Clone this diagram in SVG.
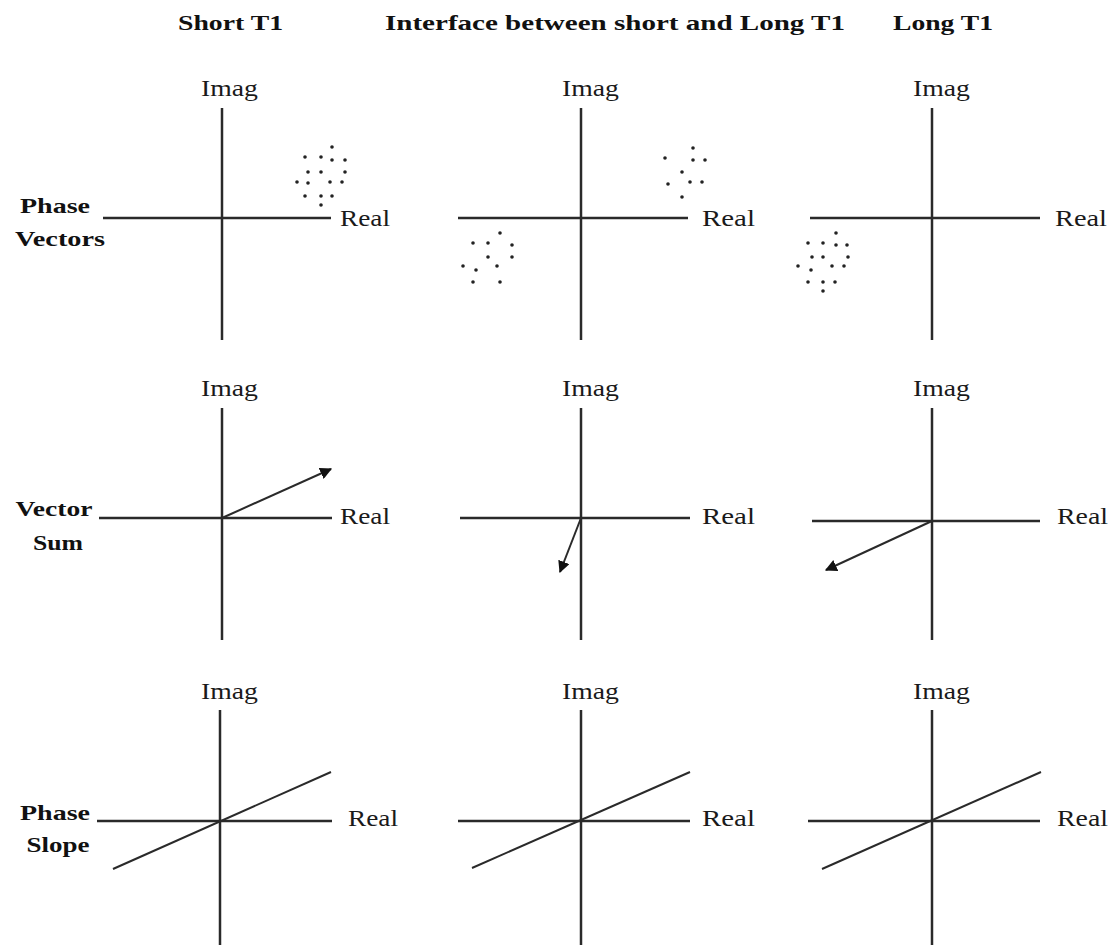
<svg xmlns="http://www.w3.org/2000/svg" width="1114" height="946" viewBox="0 0 1114 946">
<defs>
<style>
.ax{stroke:#2a2a2a;stroke-width:2.5;fill:none}
.vec{stroke:#2a2a2a;stroke-width:2;fill:none;marker-end:url(#ah)}
.sl{stroke:#2a2a2a;stroke-width:2;fill:none}
.lbl{font-family:"Liberation Serif","DejaVu Serif",serif;font-size:23px;fill:#1a1a1a}
.hd{font-family:"Liberation Serif","DejaVu Serif",serif;font-size:22px;font-weight:bold;fill:#111}
.rl{font-family:"Liberation Serif","DejaVu Serif",serif;font-size:22px;font-weight:bold;fill:#111;text-anchor:middle}
.dot{fill:#222}
</style>
<marker id="ah" viewBox="0 0 10 10" refX="9" refY="5" markerWidth="6" markerHeight="6" orient="auto" markerUnits="strokeWidth">
<path d="M0,0 L10,5 L0,10 z" fill="#111"/>
</marker>
</defs>
<rect width="1114" height="946" fill="#fff"/>

<g id="headings">
<text class="hd" x="178" y="30" textLength="105" lengthAdjust="spacingAndGlyphs">Short T1</text>
<text class="hd" x="385" y="30" textLength="460" lengthAdjust="spacingAndGlyphs">Interface between short and Long T1</text>
<text class="hd" x="893" y="30" textLength="100" lengthAdjust="spacingAndGlyphs">Long T1</text>
</g>

<g id="row-labels">
<text class="rl" x="55" y="213" textLength="70" lengthAdjust="spacingAndGlyphs">Phase</text>
<text class="rl" x="60" y="246" textLength="90" lengthAdjust="spacingAndGlyphs">Vectors</text>
<text class="rl" x="54" y="516" textLength="77" lengthAdjust="spacingAndGlyphs">Vector</text>
<text class="rl" x="58" y="550" textLength="50" lengthAdjust="spacingAndGlyphs">Sum</text>
<text class="rl" x="55" y="820" textLength="70" lengthAdjust="spacingAndGlyphs">Phase</text>
<text class="rl" x="58" y="852" textLength="63" lengthAdjust="spacingAndGlyphs">Slope</text>
</g>

<g id="panel-r1c1">
<line class="ax" x1="222" y1="108" x2="222" y2="340"/>
<line class="ax" x1="103" y1="218" x2="331" y2="218"/>
<text class="lbl" x="201" y="96" textLength="57" lengthAdjust="spacingAndGlyphs">Imag</text>
<text class="lbl" x="340" y="226" textLength="50" lengthAdjust="spacingAndGlyphs">Real</text>
<g class="dot">
<circle cx="332" cy="147" r="1.8"/><circle cx="305" cy="157" r="1.8"/><circle cx="321" cy="157" r="1.8"/><circle cx="332" cy="160" r="1.8"/><circle cx="345" cy="160" r="1.8"/>
<circle cx="308" cy="172" r="1.8"/><circle cx="321" cy="172" r="1.8"/><circle cx="345" cy="172" r="1.8"/>
<circle cx="297" cy="182" r="1.8"/><circle cx="308" cy="183" r="1.8"/><circle cx="330" cy="182" r="1.8"/><circle cx="342" cy="182" r="1.8"/>
<circle cx="305" cy="196" r="1.8"/><circle cx="321" cy="196" r="1.8"/><circle cx="332" cy="196" r="1.8"/><circle cx="321" cy="205" r="1.8"/>
</g>
</g>

<g id="panel-r1c2">
<line class="ax" x1="581" y1="108" x2="581" y2="340"/>
<line class="ax" x1="458" y1="218" x2="688" y2="218"/>
<text class="lbl" x="562" y="96" textLength="57" lengthAdjust="spacingAndGlyphs">Imag</text>
<text class="lbl" x="702" y="226" textLength="53" lengthAdjust="spacingAndGlyphs">Real</text>
<g class="dot">
<circle cx="693" cy="148" r="1.8"/><circle cx="665" cy="158" r="1.8"/><circle cx="693" cy="160" r="1.8"/><circle cx="705" cy="160" r="1.8"/>
<circle cx="682" cy="172" r="1.8"/><circle cx="668" cy="184" r="1.8"/><circle cx="690" cy="182" r="1.8"/><circle cx="702" cy="182" r="1.8"/><circle cx="682" cy="197" r="1.8"/>
<circle cx="500" cy="233" r="1.8"/><circle cx="473" cy="243" r="1.8"/><circle cx="488" cy="243" r="1.8"/><circle cx="512" cy="245" r="1.8"/>
<circle cx="488" cy="257" r="1.8"/><circle cx="512" cy="257" r="1.8"/><circle cx="463" cy="266" r="1.8"/><circle cx="476" cy="270" r="1.8"/><circle cx="497" cy="266" r="1.8"/>
<circle cx="473" cy="282" r="1.8"/><circle cx="500" cy="282" r="1.8"/>
</g>
</g>

<g id="panel-r1c3">
<line class="ax" x1="932" y1="108" x2="932" y2="340"/>
<line class="ax" x1="810" y1="218" x2="1040" y2="218"/>
<text class="lbl" x="913" y="96" textLength="57" lengthAdjust="spacingAndGlyphs">Imag</text>
<text class="lbl" x="1055" y="226" textLength="52" lengthAdjust="spacingAndGlyphs">Real</text>
<g class="dot">
<circle cx="836" cy="233" r="1.8"/><circle cx="808" cy="243" r="1.8"/><circle cx="823" cy="243" r="1.8"/><circle cx="836" cy="245" r="1.8"/><circle cx="847" cy="245" r="1.8"/>
<circle cx="812" cy="257" r="1.8"/><circle cx="823" cy="257" r="1.8"/><circle cx="848" cy="257" r="1.8"/>
<circle cx="798" cy="266" r="1.8"/><circle cx="811" cy="270" r="1.8"/><circle cx="832" cy="266" r="1.8"/><circle cx="844" cy="266" r="1.8"/>
<circle cx="808" cy="282" r="1.8"/><circle cx="823" cy="282" r="1.8"/><circle cx="835" cy="282" r="1.8"/><circle cx="823" cy="291" r="1.8"/>
</g>
</g>

<g id="panel-r2c1">
<line class="ax" x1="222" y1="408" x2="222" y2="640"/>
<line class="ax" x1="99" y1="518" x2="332" y2="518"/>
<text class="lbl" x="201" y="396" textLength="57" lengthAdjust="spacingAndGlyphs">Imag</text>
<text class="lbl" x="340" y="524" textLength="50" lengthAdjust="spacingAndGlyphs">Real</text>
</g>

<g id="panel-r2c2">
<line class="ax" x1="581" y1="408" x2="581" y2="640"/>
<line class="ax" x1="460" y1="518" x2="690" y2="518"/>
<text class="lbl" x="562" y="396" textLength="57" lengthAdjust="spacingAndGlyphs">Imag</text>
<text class="lbl" x="702" y="524" textLength="53" lengthAdjust="spacingAndGlyphs">Real</text>
</g>

<g id="panel-r2c3">
<line class="ax" x1="932" y1="408" x2="932" y2="640"/>
<line class="ax" x1="812" y1="521" x2="1040" y2="521"/>
<text class="lbl" x="913" y="396" textLength="57" lengthAdjust="spacingAndGlyphs">Imag</text>
<text class="lbl" x="1057" y="524" textLength="51" lengthAdjust="spacingAndGlyphs">Real</text>
</g>

<g id="panel-r3c1">
<line class="ax" x1="220" y1="710" x2="220" y2="945"/>
<line class="ax" x1="97" y1="821" x2="332" y2="821"/>
<text class="lbl" x="201" y="699" textLength="57" lengthAdjust="spacingAndGlyphs">Imag</text>
<text class="lbl" x="348" y="826" textLength="50" lengthAdjust="spacingAndGlyphs">Real</text>
</g>

<g id="panel-r3c2">
<line class="ax" x1="581" y1="710" x2="581" y2="945"/>
<line class="ax" x1="458" y1="821" x2="690" y2="821"/>
<text class="lbl" x="562" y="699" textLength="57" lengthAdjust="spacingAndGlyphs">Imag</text>
<text class="lbl" x="702" y="826" textLength="53" lengthAdjust="spacingAndGlyphs">Real</text>
</g>

<g id="panel-r3c3">
<line class="ax" x1="932" y1="710" x2="932" y2="945"/>
<line class="ax" x1="808" y1="821" x2="1040" y2="821"/>
<text class="lbl" x="913" y="699" textLength="57" lengthAdjust="spacingAndGlyphs">Imag</text>
<text class="lbl" x="1057" y="826" textLength="51" lengthAdjust="spacingAndGlyphs">Real</text>
</g>

<g id="connectors">
<line class="vec" x1="222" y1="518" x2="331" y2="469"/>
<line class="vec" x1="581" y1="518" x2="560" y2="572"/>
<line class="vec" x1="932" y1="521" x2="826" y2="570"/>
<line class="sl" x1="113" y1="869" x2="331" y2="772"/>
<line class="sl" x1="472" y1="868" x2="690" y2="772"/>
<line class="sl" x1="822" y1="869" x2="1041" y2="772"/>
</g>
</svg>
